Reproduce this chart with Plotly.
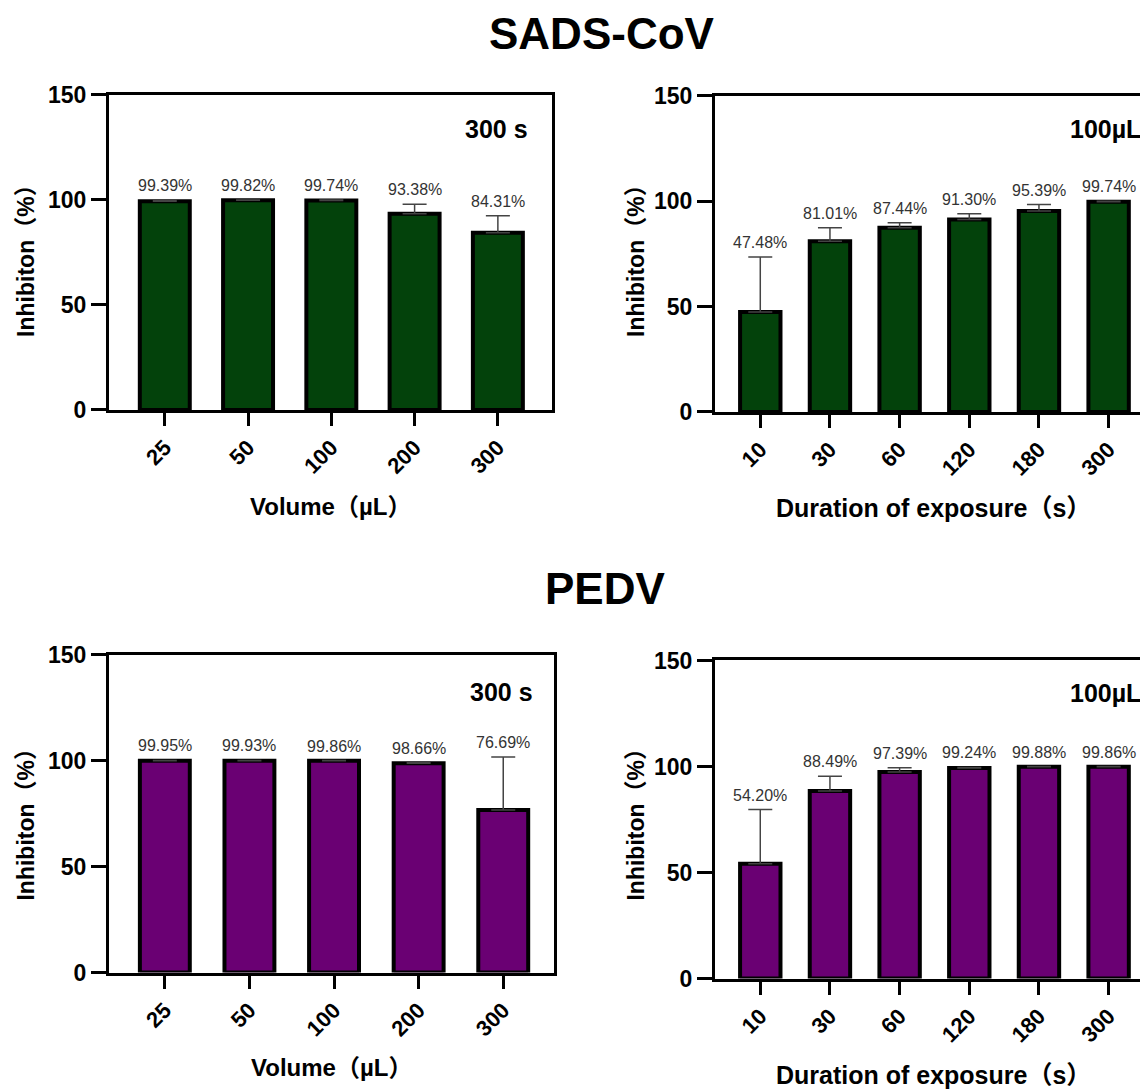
import plotly.graph_objects as go

W, H = 1148, 1090

# ---------------- data ----------------
vol_cats = ["25", "50", "100", "200", "300"]
time_cats = ["10", "30", "60", "120", "180", "300"]

sads_vol_vals = [99.39, 99.82, 99.74, 93.38, 84.31]
sads_vol_err = [0.5, 0.15, 0.2, 4.5, 8.1]
sads_time_vals = [47.48, 81.01, 87.44, 91.30, 95.39, 99.74]
sads_time_err = [26.0, 6.4, 2.3, 2.7, 3.0, 0.3]

pedv_vol_vals = [99.95, 99.93, 99.86, 98.66, 76.69]
pedv_vol_err = [0.1, 0.1, 0.1, 0.3, 25.0]
pedv_time_vals = [54.20, 88.49, 97.39, 99.24, 99.88, 99.86]
pedv_time_err = [25.5, 6.9, 2.0, 0.3, 0.1, 0.1]

y_ticks = [0, 50, 100, 150]
y_title = "Inhibiton（%）"
vol_title = "Volume（µL）"
time_title = "Duration of exposure（s）"

GREEN = "#03420B"
PURPLE = "#6A0073"
FONT = "Liberation Sans, Arial, Noto Sans CJK SC, sans-serif"

# ---------------- pixel -> paper helpers (compensate page offset) ----------------
OX, OY, SY = 7.0, 17.7, 0.982

def px_x(x):
    return min(1.0, max(0.0, (x - OX) / W))

def px_y(y):
    return 1 - ((y - OY) / SY) / H

panels = [
    ("x", "y", vol_cats, sads_vol_vals, sads_vol_err, GREEN, (108, 551), (92, 409), [-0.67, 4.65], 0.6, True),
    ("x2", "y2", time_cats, sads_time_vals, sads_time_err, GREEN, (714, 1160), (93, 411), [-0.65, 5.68], 0.58, False),
    ("x3", "y3", vol_cats, pedv_vol_vals, pedv_vol_err, PURPLE, (108, 553), (655, 975), [-0.66, 4.6], 0.59, True),
    ("x4", "y4", time_cats, pedv_time_vals, pedv_time_err, PURPLE, (714, 1160), (661, 981), [-0.65, 5.68], 0.58, False),
]

fig = go.Figure()
annotations = []
layout_axes = {}

for i, (xa, ya, cats, vals, err, col, xd, yd, xr, bw, closed) in enumerate(panels):
    fig.add_trace(go.Bar(
        x=cats, y=vals, xaxis=xa, yaxis=ya, width=bw,
        marker=dict(color=col, line=dict(color="black", width=4)),
        error_y=dict(type="data", symmetric=False, array=err,
                     arrayminus=[0] * len(err), color="#444444",
                     thickness=1.5, width=12),
        showlegend=False, hoverinfo="x+y",
    ))
    # value labels above the error bars (category index as x position)
    for j, (v, e) in enumerate(zip(vals, err)):
        annotations.append(dict(
            x=j, y=v + e, xref=xa, yref=ya, text=f"{v:.2f}%",
            showarrow=False, yanchor="bottom", yshift=4,
            font=dict(family=FONT, size=16, color="#333333"),
        ))
    suffix = "" if i == 0 else str(i + 1)
    layout_axes["xaxis" + suffix] = dict(
        domain=[px_x(xd[0]), px_x(xd[1])],
        anchor=ya, type="category", range=xr,
        showline=True, linewidth=3, linecolor="black", mirror=True,
        ticks="outside", ticklen=13, tickwidth=3, tickcolor="black",
        tickangle=-45, showgrid=False, zeroline=False,
        tickfont=dict(family=FONT, size=22, color="black", weight="bold"),
    )
    layout_axes["yaxis" + suffix] = dict(
        domain=[px_y(yd[1]), px_y(yd[0])],
        anchor=xa, range=[0, 150], tickvals=y_ticks,
        showline=True, linewidth=3, linecolor="black", mirror=closed,
        ticks="outside", ticklen=15, tickwidth=3, tickcolor="black",
        showgrid=False, zeroline=False,
        tickfont=dict(family=FONT, size=23, color="black", weight="bold"),
    )

def add_text(text, x, y, size, angle=0, xanchor="center"):
    annotations.append(dict(
        text=text, x=(x - OX) / W, y=px_y(y), xref="paper", yref="paper",
        showarrow=False, textangle=angle, xanchor=xanchor, yanchor="middle",
        font=dict(family=FONT, size=size, color="black", weight="bold"),
    ))

# titles
add_text("SADS-CoV", 601, 30, 44)
add_text("PEDV", 604, 589, 44)

# in-panel condition labels
add_text("300 s", 495, 126, 25)
add_text("100µL", 1104, 126, 25)
add_text("300 s", 500, 693, 25)
add_text("100µL", 1104, 694, 25)

# y-axis titles
add_text(y_title, 25, 253, 23, angle=-90)
add_text(y_title, 635, 253, 23, angle=-90)
add_text(y_title, 25, 820, 23, angle=-90)
add_text(y_title, 635, 820, 23, angle=-90)

# x-axis titles
add_text(vol_title, 329, 506, 24)
add_text(time_title, 932, 508, 25)
add_text(vol_title, 330, 1070, 24)
add_text(time_title, 932, 1078, 25)

fig.update_layout(
    width=W, height=H,
    margin=dict(l=0, r=0, t=0, b=0),
    paper_bgcolor="white", plot_bgcolor="white",
    annotations=annotations,
    font=dict(family=FONT),
    **layout_axes,
)

fig.write_html("out.html")
